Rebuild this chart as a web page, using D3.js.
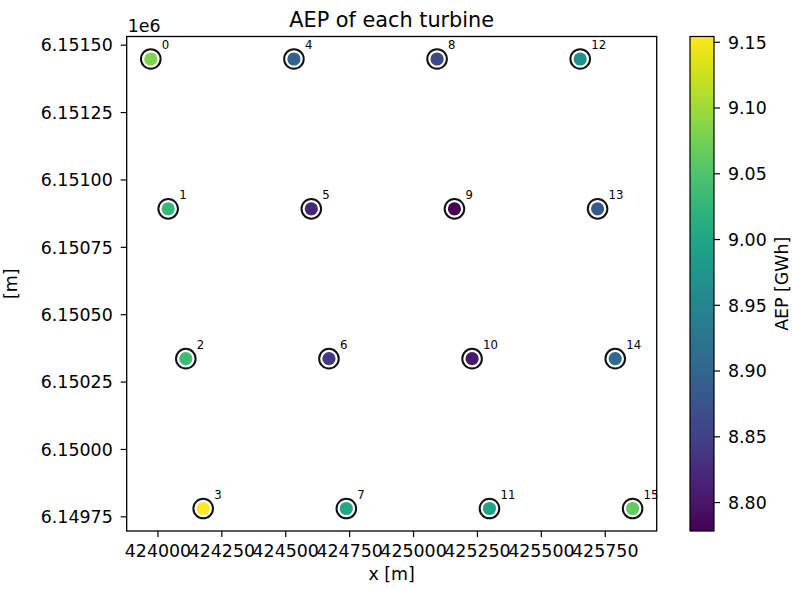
<!DOCTYPE html>
<html>
<head>
<meta charset="utf-8">
<script src="https://cdn.jsdelivr.net/npm/d3@7"></script>
<style>
    body { margin: 0; background: #fff; }
    svg { display: block; }
    text { font-family: "DejaVu Sans", sans-serif; fill: #000; }
</style>
</head>
<body>
<div id="chart"></div>
<script>
// Turbine positions (Horns Rev style grid, 4 x 4) and AEP per turbine
const turbineIds = d3.range(16);
const turbineX = [423974, 424042, 424111, 424179,
                  424534, 424602, 424671, 424739,
                  425094, 425162, 425231, 425299,
                  425654, 425722, 425791, 425859];
const turbineY = [6151447, 6150891, 6150335, 6149779,
                  6151447, 6150891, 6150335, 6149779,
                  6151447, 6150891, 6150335, 6149779,
                  6151447, 6150891, 6150335, 6149779];
const aepGWh = [9.083, 9.030, 9.037, 9.154,
                8.895, 8.819, 8.842, 9.004,
                8.861, 8.778, 8.804, 8.996,
                8.966, 8.883, 8.906, 9.064];

const xTicks = d3.range(424000, 425751, 250);
const yTicks = d3.range(6149750, 6151501, 250);
const cbTicks = [8.80, 8.85, 8.90, 8.95, 9.00, 9.05, 9.10, 9.15];

const width = 792, height = 590;
const plot = { left: 126.7, right: 656.7, top: 36.5, bottom: 531 };
const cbar = { left: 690, right: 714 };

const svg = d3.select("#chart").append("svg")
    .attr("width", width)
    .attr("height", height);

// matplotlib-like 5% margins around the data
function padded(vals) {
    const [lo, hi] = d3.extent(vals);
    const m = (hi - lo) * 0.05;
    return [lo - m, hi + m];
}

const x = d3.scaleLinear().domain(padded(turbineX)).range([plot.left, plot.right]);
const y = d3.scaleLinear().domain(padded(turbineY)).range([plot.bottom, plot.top]);
const aepExtent = d3.extent(aepGWh);
const color = d3.scaleSequential(d3.interpolateViridis).domain(aepExtent);
const cy = d3.scaleLinear().domain(aepExtent).range([plot.bottom, plot.top]);

// axes
const xAxis = svg.append("g")
    .attr("transform", `translate(0,${plot.bottom})`)
    .call(d3.axisBottom(x).tickValues(xTicks).tickFormat(d3.format("d"))
        .tickSize(6).tickPadding(8).tickSizeOuter(0));
const yAxis = svg.append("g")
    .attr("transform", `translate(${plot.left},0)`)
    .call(d3.axisLeft(y).tickValues(yTicks).tickFormat(d => (d / 1e6).toFixed(5))
        .tickSize(6).tickPadding(8).tickSizeOuter(0));

[xAxis, yAxis].forEach(g => {
    g.select(".domain").remove();
    g.selectAll(".tick line").attr("stroke", "#000").attr("stroke-width", 1.2);
    g.selectAll(".tick text")
        .style("font-family", "DejaVu Sans")
        .style("font-size", "17.4px")
        .attr("fill", "#222");
});
yAxis.selectAll(".tick text").attr("dy", "0.36em");

// frame
svg.append("rect")
    .attr("x", plot.left).attr("y", plot.top)
    .attr("width", plot.right - plot.left)
    .attr("height", plot.bottom - plot.top)
    .attr("fill", "none")
    .attr("stroke", "#000")
    .attr("stroke-width", 1.3);

// turbines: black ring then coloured dot
const turb = svg.append("g").selectAll("g")
    .data(turbineIds)
    .enter().append("g")
    .attr("transform", i => `translate(${x(turbineX[i])},${y(turbineY[i])})`);

turb.append("circle")
    .attr("r", 9.8)
    .attr("fill", "#fff")
    .attr("stroke", "#111")
    .attr("stroke-width", 2);

turb.append("circle")
    .attr("r", 6.6)
    .attr("fill", i => color(aepGWh[i]));

turb.append("text")
    .attr("x", 11)
    .attr("y", -10)
    .style("font-family", "'Liberation Sans Narrow', 'DejaVu Sans Condensed', 'DejaVu Sans'")
    .style("font-size", "13px")
    .attr("fill", "#222")
    .text(i => i);

// offset text, title, labels
svg.append("text")
    .attr("x", plot.left + 1).attr("y", 32)
    .style("font-size", "17.4px").attr("fill", "#222")
    .text("1e6");

svg.append("text")
    .attr("x", (plot.left + plot.right) / 2).attr("y", 26.5)
    .attr("text-anchor", "middle")
    .style("font-size", "20.8px").attr("fill", "#222")
    .text("AEP of each turbine");

svg.append("text")
    .attr("x", (plot.left + plot.right) / 2).attr("y", 580)
    .attr("text-anchor", "middle")
    .style("font-size", "17.4px").attr("fill", "#222")
    .text("x [m]");

svg.append("text")
    .attr("transform", `translate(17,${(plot.top + plot.bottom) / 2}) rotate(-90)`)
    .attr("text-anchor", "middle")
    .style("font-size", "17.4px").attr("fill", "#222")
    .text("[m]");

// colorbar
const grad = svg.append("defs").append("linearGradient")
    .attr("id", "viridis")
    .attr("x1", 0).attr("y1", 1).attr("x2", 0).attr("y2", 0);
grad.selectAll("stop")
    .data(d3.range(0, 1.0001, 0.02))
    .enter().append("stop")
    .attr("offset", t => t)
    .attr("stop-color", t => d3.interpolateViridis(t));

svg.append("rect")
    .attr("x", cbar.left).attr("y", plot.top)
    .attr("width", cbar.right - cbar.left)
    .attr("height", plot.bottom - plot.top)
    .attr("fill", "url(#viridis)")
    .attr("stroke", "#000")
    .attr("stroke-width", 1.2);

const cAxis = svg.append("g")
    .attr("transform", `translate(${cbar.right},0)`)
    .call(d3.axisRight(cy).tickValues(cbTicks).tickFormat(d3.format(".2f"))
        .tickSize(6).tickPadding(8).tickSizeOuter(0));
cAxis.select(".domain").remove();
cAxis.selectAll(".tick line").attr("stroke", "#000").attr("stroke-width", 1.2);
cAxis.selectAll(".tick text")
    .style("font-family", "DejaVu Sans")
    .style("font-size", "17.4px")
    .attr("fill", "#222")
    .attr("dy", "0.36em");

svg.append("text")
    .attr("transform", `translate(788,${(plot.top + plot.bottom) / 2}) rotate(-90)`)
    .attr("text-anchor", "middle")
    .style("font-size", "17.4px").attr("fill", "#222")
    .text("AEP [GWh]");
</script>
</body>
</html>
